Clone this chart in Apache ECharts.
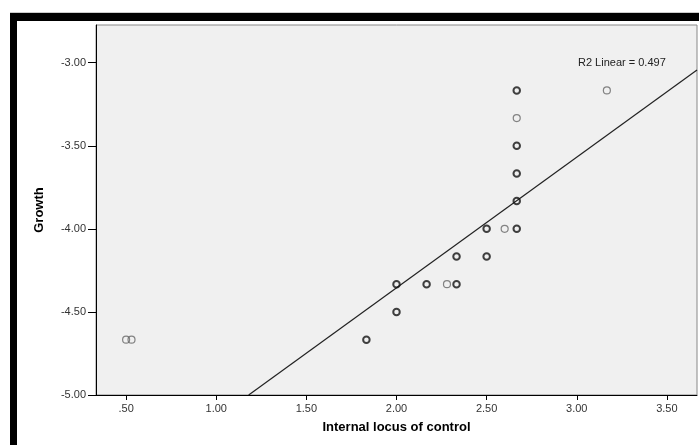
<!DOCTYPE html>
<html>
<head>
<meta charset="utf-8">
<script src="https://cdn.jsdelivr.net/npm/echarts@6/dist/echarts.min.js"></script>
<style>
html,body{margin:0;padding:0;background:#fff;}
#chart{width:699px;height:445px;}
</style>
</head>
<body>
<div id="chart"></div>
<script>
// Points drawn with a single (thin, gray) circle
const singleX = [0.50, 0.53, 2.28, 2.60, 2.667, 3.167];
const singleY = [-4.667, -4.667, -4.333, -4.000, -3.333, -3.167];
// Points with overlapping cases (bold dark circle)
const multiX = [1.833, 2.000, 2.000, 2.167, 2.333, 2.333, 2.500, 2.500, 2.667, 2.667, 2.667, 2.667, 2.667];
const multiY = [-4.667, -4.500, -4.333, -4.333, -4.333, -4.167, -4.167, -4.000, -4.000, -3.833, -3.667, -3.500, -3.167];
// Fit line end points
const fitX = [1.18, 3.667];
const fitY = [-5.00, -3.044];
const xTicks = [0.5, 1.0, 1.5, 2.0, 2.5, 3.0, 3.5];
const yTicks = [-5.0, -4.5, -4.0, -3.5, -3.0];
const r2Label = 'R2 Linear = 0.497';

const zip = (a, b) => a.map((v, i) => [v, b[i]]);
const fmt = v => {
  let s = Number(v).toFixed(2);
  if (s.startsWith('0.')) s = s.slice(1);
  if (s.startsWith('-0.')) s = '-' + s.slice(2);
  return s;
};
const font = 'Liberation Sans, Arial, sans-serif';

const chart = echarts.init(document.getElementById('chart'), null, {renderer: 'canvas'});
chart.setOption({
  backgroundColor: '#ffffff',
  animation: false,
  grid: {
    left: 96, top: 25, width: 601, height: 370,
    show: true, backgroundColor: '#f0f0f0', borderColor: '#888', borderWidth: 1
  },
  xAxis: {
    type: 'value', min: 0.333, max: 3.667,
    name: 'Internal locus of control', nameLocation: 'middle', nameGap: 26,
    nameTextStyle: {fontFamily: font, fontSize: 13, fontWeight: 'bold', color: '#000'},
    axisLine: {show: true, lineStyle: {color: '#000', width: 1}},
    axisTick: {show: true, length: 5, lineStyle: {color: '#000'}, customValues: xTicks},
    axisLabel: {customValues: xTicks, formatter: fmt, margin: 8, fontFamily: font, fontSize: 11, color: '#333'},
    splitLine: {show: false}
  },
  yAxis: {
    type: 'value', min: -5.0, max: -2.773,
    name: 'Growth', nameLocation: 'middle', nameGap: 50, nameRotate: 90,
    nameTextStyle: {fontFamily: font, fontSize: 13, fontWeight: 'bold', color: '#000'},
    axisLine: {show: true, onZero: false, lineStyle: {color: '#000', width: 1}},
    axisTick: {show: true, length: 8, lineStyle: {color: '#000'}, customValues: yTicks},
    axisLabel: {customValues: yTicks, formatter: fmt, margin: 10, fontFamily: font, fontSize: 11, color: '#333'},
    splitLine: {show: false}
  },
  series: [
    {
      type: 'line', data: zip(fitX, fitY), showSymbol: false, symbol: 'none',
      lineStyle: {color: '#222', width: 1.2}, clip: true, silent: true, z: 2
    },
    {
      type: 'scatter', data: zip(singleX, singleY), symbol: 'circle', symbolSize: 7,
      itemStyle: {color: 'rgba(0,0,0,0)', borderColor: '#666', borderWidth: 1.2}, z: 3
    },
    {
      type: 'scatter', data: zip(multiX, multiY), symbol: 'circle', symbolSize: 6.5,
      itemStyle: {color: 'rgba(0,0,0,0)', borderColor: '#111', borderWidth: 2}, z: 4
    }
  ],
  graphic: [
    {type: 'rect', shape: {x: 10, y: 12, width: 689, height: 1}, style: {fill: '#cccccc'}, silent: true},
    {type: 'rect', shape: {x: 10, y: 13, width: 689, height: 8}, style: {fill: '#000'}, silent: true},
    {type: 'rect', shape: {x: 10, y: 13, width: 7, height: 432}, style: {fill: '#000'}, silent: true},
    {type: 'text', left: 578, top: 57, style: {text: r2Label, fontFamily: font, fontSize: 11, fill: '#222'}, silent: true}
  ]
});
</script>
</body>
</html>
